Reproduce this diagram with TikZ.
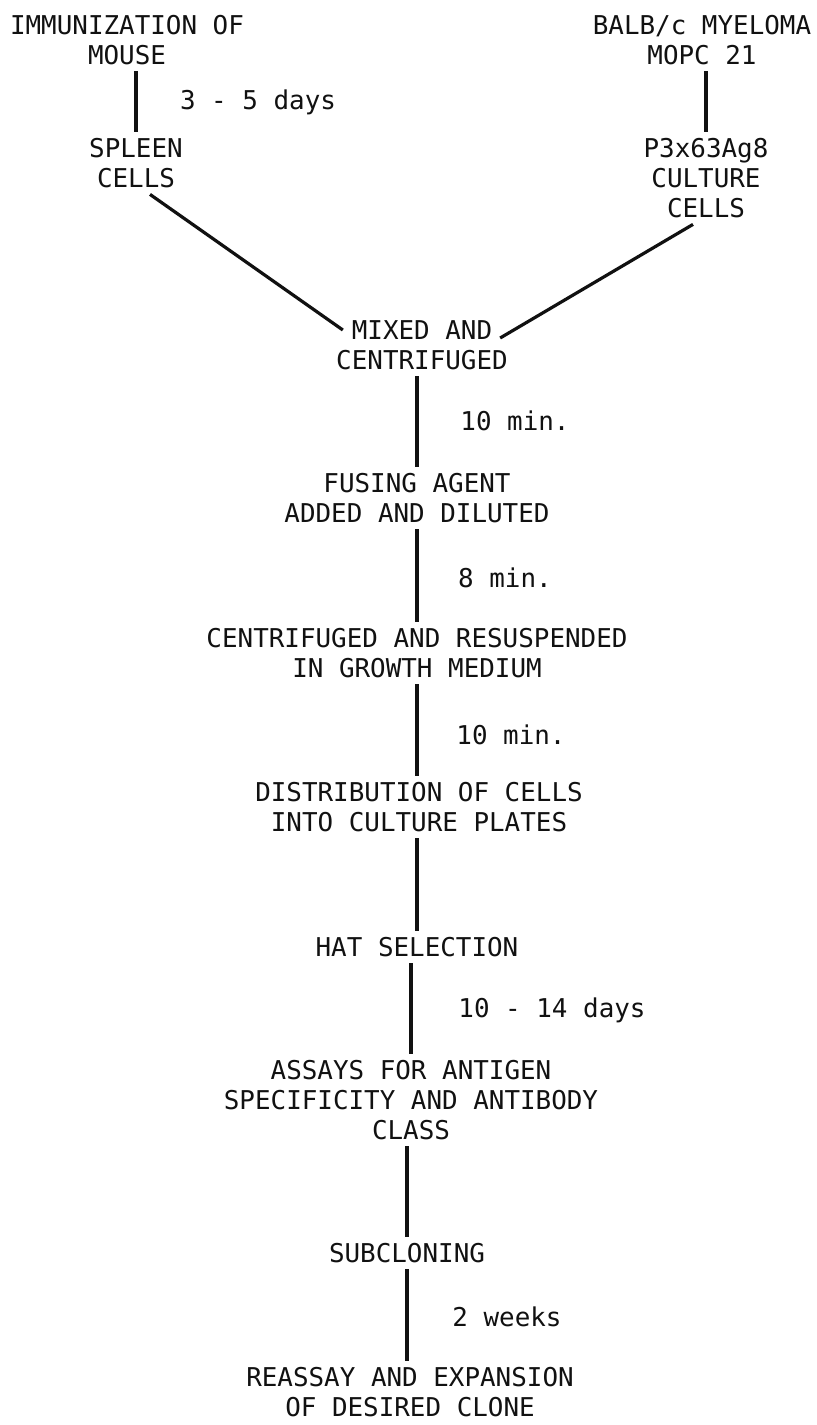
\documentclass[tikz,border=0pt]{standalone}
\usepackage{fontspec}
\setmonofont{DejaVu Sans Mono}
\usetikzlibrary{calc}
\definecolor{inkBlack}{HTML}{111111}
\definecolor{paperWhite}{HTML}{FFFFFF}
\tikzset{
    stage/.style={inner sep=0pt,anchor=north,align=center,text=inkBlack,
        font=\ttfamily\fontsize{12.95}{15}\selectfont},
    timing/.style={stage},
    link/.style={draw=inkBlack,line width=1.7pt,shorten <=3pt,shorten >=3pt},
    merge/.style={draw=inkBlack,line width=1.6pt}
}
\begin{document}
\begin{tikzpicture}[x=0.5pt,y=-0.5pt]
        \fill[paperWhite] (0,0) rectangle (817,1425);
        \useasboundingbox (0,0) rectangle (817,1425);
        % two starting columns
        \node[stage] (immun) at (127,15) {IMMUNIZATION OF\\MOUSE};
        \node[stage] (spleen) at (136,138) {SPLEEN\\CELLS};
        \node[timing] (days35) at (258,89) {3 - 5 days};
        \node[stage] (balb) at (702,15) {BALB/c MYELOMA\\MOPC 21};
        \node[stage] (cult) at (706,138) {P3x63Ag8\\CULTURE\\CELLS};

        \draw[link] (spleen.north |- immun.south) -- (spleen.north);
        \draw[link] (cult.north |- balb.south) -- (cult.north);

        % both join here
        \node[stage] (mix) at (422,320) {MIXED AND\\CENTRIFUGED};
        \draw[merge] ([shift={(14,6)}]spleen.south) -- ([shift={(7,10)}]mix.north west);
        \draw[merge] ([shift={(-13,6)}]cult.south) -- ([shift={(-8,18)}]mix.north east);

        % main chain
        \node[stage] (fuse) at (417,473) {FUSING AGENT\\ADDED AND DILUTED};
        \node[stage] (cent) at (417,628) {CENTRIFUGED AND RESUSPENDED\\IN GROWTH MEDIUM};
        \node[stage] (dist) at (419,782) {DISTRIBUTION OF CELLS\\INTO CULTURE PLATES};
        \node[stage] (hat) at (417,937) {HAT SELECTION};
        \node[stage] (assay) at (411,1060) {ASSAYS FOR ANTIGEN\\SPECIFICITY AND ANTIBODY\\CLASS};
        \node[stage] (sub) at (407,1243) {SUBCLONING};
        \node[stage] (reassay) at (410,1367) {REASSAY AND EXPANSION\\OF DESIRED CLONE};

        \node[timing] (min10a) at (515,410) {10 min.};
        \node[timing] (min8) at (505,567) {8 min.};
        \node[timing] (min10b) at (511,724) {10 min.};
        \node[timing] (days1014) at (552,997) {10 - 14 days};
        \node[timing] (weeks2) at (507,1306) {2 weeks};

        \draw[link] (mix.south -| fuse.north) -- (fuse.north);
        \draw[link] (fuse.south) -- (fuse.south |- cent.north);
        \draw[link] (cent.south) -- (cent.south |- dist.north);
        \draw[link] (hat.north |- dist.south) -- (hat.north);
        \draw[link] (assay.north |- hat.south) -- (assay.north);
        \draw[link] (sub.north |- assay.south) -- (sub.north);
        \draw[link] (sub.south) -- (sub.south |- reassay.north);

    \end{tikzpicture}
\end{document}
